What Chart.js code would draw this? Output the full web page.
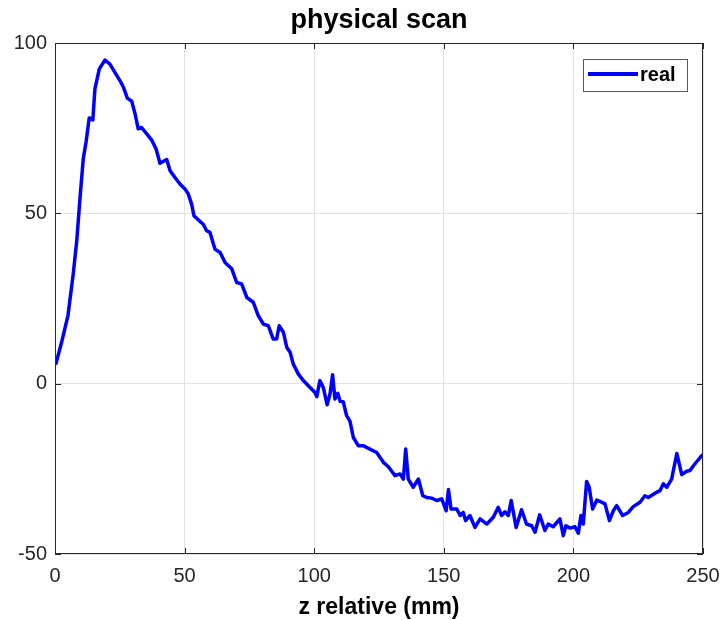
<!DOCTYPE html>
<html>
<head>
<meta charset="utf-8">
<script src="https://cdn.jsdelivr.net/npm/chart.js@4/dist/chart.umd.min.js"></script>
<style>
  html,body{margin:0;padding:0;background:#fff;}
  #wrap{width:722px;height:620px;}
</style>
</head>
<body>
<div id="wrap"><canvas id="scanChart" width="722" height="620"></canvas></div>
<script>
// z position (mm) and measured signal for the "real" trace
const zMm = [0.4,2.5,5,7,8.4,9.7,10.9,12,13.2,13.9,14.6,15.4,17.1,19.3,21.2,23.1,25.1,26.4,27.9,29.6,
  30.9,32.1,33.4,35.4,37.3,39,40.5,43.1,44.4,46.3,48.2,50.2,51.4,52.7,53.6,55.7,57.2,58.5,59.8,61.7,
  63.7,65.6,68.2,70.1,72,74,76.5,78.4,80.4,82.3,84.2,85.5,86.5,88.1,89.4,90.7,91.9,93.9,95.8,98.4,
  100.3,101,102.2,103.5,105,106.1,107.1,108,109.1,110,111.2,112.5,113.8,115.1,117,118.9,121.5,124.1,126.7,128.6,
  131.2,133.1,134.4,135.3,136.3,138.2,140.2,141.9,143.4,145.3,147.3,149.2,150.9,151.8,152.8,155,156.3,157.5,158.4,160.1,
  162,164,166.6,169.1,171,172.3,173.6,174.9,176,177.9,180,181.9,183.9,185.2,187,189,190.3,192.2,194.8,196.1,
  197.1,198.7,200.6,201.9,202.9,203.8,205.1,206.1,207.4,209,210.9,212.2,213.9,215.4,216.7,219,221.2,223.1,225.7,227.6,
  228.9,232.1,233.4,234.7,236,237.9,239.9,241.8,243.7,245,246.3,249.5,250];
const realVals = [6,12,20,32,42,55,66,71,78,77.8,77.4,86.5,92.4,95,93.8,91.4,88.9,87,83.8,82.9,
  79.2,74.8,75.2,73.3,71.5,68.9,64.7,65.8,62.5,60.5,58.6,57.1,55.7,52.7,49.3,47.8,46.8,44.9,44.4,39.5,
  38.5,35.6,33.7,29.7,29.3,25.3,23.9,20,17.5,17,13.1,13.1,17,15.1,10.7,9.2,5.8,2.8,0.9,-1.1,
  -2.6,-3.8,0.9,-1.1,-6.2,-3,2.6,-4.5,-2.8,-5.2,-5.3,-9.4,-11,-15.8,-18.2,-18.2,-19.2,-20.2,-23.1,-24.4,
  -27,-26.5,-28,-19.2,-28,-30.4,-28,-32.9,-33.4,-33.6,-34.3,-33.8,-37.3,-31.1,-36.8,-36.8,-38.7,-37.8,-40.2,-38.7,
  -42.2,-39.7,-41.2,-39.2,-36.3,-38.7,-37.6,-38.7,-34.3,-42.2,-37,-41.2,-41.7,-43.6,-38.5,-43.1,-41.2,-42,-39.7,-44.6,
  -41.7,-42.4,-42,-43.9,-38.7,-41.2,-28.7,-30.4,-36.8,-34.2,-34.8,-35.3,-40.2,-37.3,-35.8,-38.7,-37.8,-36.1,-34.8,-32.9,
  -33.4,-31.9,-31.4,-29.4,-30.4,-28,-20.5,-26.7,-25.7,-25.5,-24.1,-21.1,-21];
const xTicks = [0,50,100,150,200,250];
const yTicks = [-50,0,50,100];

const axisColor = '#262626';
const fontFam = '"Liberation Sans", Arial, Helvetica, sans-serif';

// box around the axes, inward tick marks, and a MATLAB-like legend
const boxPlugin = {
  id: 'boxPlugin',
  afterDatasetsDraw(chart){
    const {ctx, chartArea:a, scales:{x, y}} = chart;
    ctx.save();
    ctx.strokeStyle = axisColor;
    ctx.lineWidth = 1;
    ctx.strokeRect(a.left + 0.5, a.top + 0.5, a.right - a.left - 1, a.bottom - a.top - 1);
    const tl = 6;
    ctx.beginPath();
    xTicks.forEach(v => {
      const px = Math.round(x.getPixelForValue(v)) + 0.5;
      ctx.moveTo(px, a.bottom); ctx.lineTo(px, a.bottom - tl);
      ctx.moveTo(px, a.top); ctx.lineTo(px, a.top + tl);
    });
    yTicks.forEach(v => {
      const py = Math.round(y.getPixelForValue(v)) + 0.5;
      ctx.moveTo(a.left, py); ctx.lineTo(a.left + tl, py);
      ctx.moveTo(a.right, py); ctx.lineTo(a.right - tl, py);
    });
    ctx.stroke();

    // legend
    const ds = chart.data.datasets[0];
    const bx = a.right - 120, by = a.top + 16, bw = 104, bh = 32;
    ctx.fillStyle = '#fff';
    ctx.fillRect(bx, by, bw, bh);
    ctx.strokeStyle = '#5a5a5a';
    ctx.strokeRect(bx + 0.5, by + 0.5, bw, bh);
    ctx.strokeStyle = ds.borderColor;
    ctx.lineWidth = 4;
    ctx.beginPath();
    ctx.moveTo(bx + 5, by + 15); ctx.lineTo(bx + 55, by + 15);
    ctx.stroke();
    ctx.fillStyle = '#000';
    ctx.font = 'bold 20px ' + fontFam;
    ctx.textBaseline = 'middle';
    ctx.textAlign = 'left';
    ctx.fillText(ds.label, bx + 57, by + 16);
    ctx.restore();
  }
};

new Chart(document.getElementById('scanChart'), {
  type: 'line',
  data: {
    datasets: [{
      label: 'real',
      data: zMm.map((z, i) => ({x: z, y: realVals[i]})),
      borderColor: '#0000ff',
      borderWidth: 3.5,
      pointRadius: 0,
      tension: 0,
      borderJoinStyle: 'round',
      borderCapStyle: 'round',
      fill: false
    }]
  },
  options: {
    responsive: false,
    animation: false,
    layout: {padding: {left: 0, right: 19, top: 0, bottom: 0}},
    plugins: {
      legend: {display: false},
      tooltip: {enabled: false},
      title: {
        display: true,
        fullSize: false,
        text: 'physical scan',
        color: '#000',
        font: {family: fontFam, size: 27, weight: 'bold', lineHeight: 1.2},
        padding: {top: 4, bottom: 6.6}
      }
    },
    scales: {
      x: {
        type: 'linear',
        min: 0, max: 250,
        afterBuildTicks: s => { s.ticks = xTicks.map(v => ({value: v})); },
        afterFit: s => { s.height = 66; s.paddingLeft = 0; s.paddingRight = 0; },
        grid: {color: '#e3e3e3', drawTicks: false},
        border: {display: false},
        ticks: {color: axisColor, padding: 10, maxRotation: 0,
                font: {family: fontFam, size: 20}},
        title: {display: true, text: 'z relative (mm)', color: '#000',
                font: {family: fontFam, size: 23, weight: 'bold', lineHeight: 1},
                padding: {top: 0, bottom: 1}}
      },
      y: {
        min: -50, max: 100,
        afterBuildTicks: s => { s.ticks = yTicks.map(v => ({value: v})); },
        afterFit: s => { s.width = 55; s.paddingTop = 0; s.paddingBottom = 0; },
        grid: {color: '#e3e3e3', drawTicks: false},
        border: {display: false},
        ticks: {color: axisColor, padding: 8,
                font: {family: fontFam, size: 20}}
      }
    }
  },
  plugins: [boxPlugin]
});
</script>
</body>
</html>
